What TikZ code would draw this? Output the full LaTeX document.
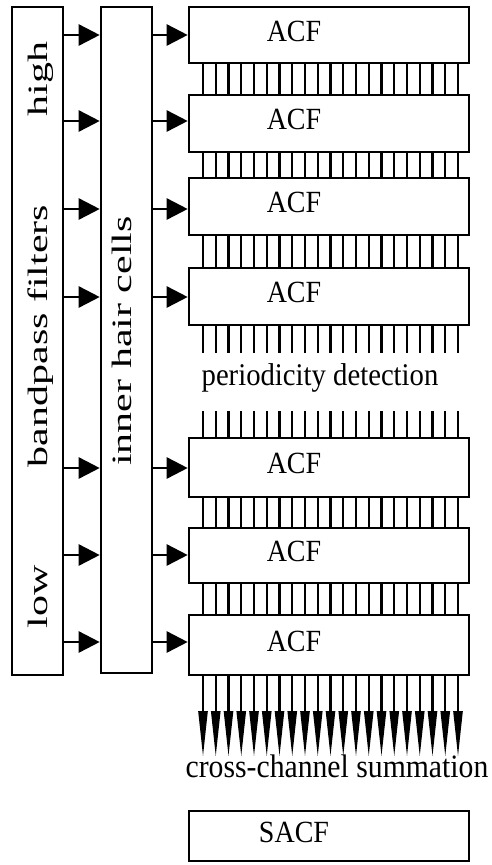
\documentclass[tikz,border=0pt]{standalone}
\usepackage{fontspec}
\setmainfont{Liberation Serif}
\usetikzlibrary{arrows.meta}
\begin{document}
\begin{tikzpicture}[x=1pt,y=-1pt,
  box/.style={draw=black, line width=2.6pt, inner sep=0pt, fill=white},
  acfbox/.style={box, minimum width=280pt},
  lbl/.style={font=\fontsize{28}{30}\selectfont, inner sep=0pt},
  vlbl/.style={font=\fontsize{28}{30}\selectfont, inner sep=0pt, rotate=90,
    text height=19pt, text depth=6pt},
  feed/.style={line width=2.6pt, -{Triangle[length=21pt,width=21pt]}},
  chan/.style={line width=2.4pt},
  sumarr/.style={line width=2.4pt, -{Triangle[length=46pt,width=9pt]}}]
\useasboundingbox (0,0) rectangle (491,865);

% filter bank and hair-cell stages
\node[box, minimum width=51pt, minimum height=668pt] (bp) at (37.5,341) {};
\node[box, minimum width=51pt, minimum height=666pt] (ihc) at (126.5,340) {};
\node[vlbl] (tHigh) at (40.5,79) {\scalebox{1.5}[1]{high}};
\node[vlbl] (tBp) at (40.5,336) {\scalebox{1.5}[1]{bandpass filters}};
\node[vlbl] (tLow) at (40.5,597) {\scalebox{1.5}[1]{low}};
\node[vlbl] (tIhc) at (125,341) {\scalebox{1.5}[1]{inner hair cells}};

% autocorrelation per channel
\node[acfbox, minimum height=56pt] (acf1) at (329,35) {};
\node[acfbox, minimum height=57pt] (acf2) at (329,123.5) {};
\node[acfbox, minimum height=57pt] (acf3) at (329,206.5) {};
\node[acfbox, minimum height=57pt] (acf4) at (329,296.5) {};
\node[acfbox, minimum height=59pt] (acf5) at (329,467.5) {};
\node[acfbox, minimum height=55pt] (acf6) at (329,555.5) {};
\node[acfbox, minimum height=60pt] (acf7) at (329,645) {};
\node[acfbox, minimum height=50pt] (sacf) at (329,836) {};

\foreach \k in {1,...,7}{
  \node[lbl] (tAcf\k) at ([xshift=-35pt,yshift=4pt]acf\k.center) {\scalebox{1}[1.1]{ACF}};
}
\node[lbl] (tSacf) at ([xshift=-35pt,yshift=4pt]sacf.center) {\scalebox{1}[1.1]{SACF}};

\node[lbl, font=\fontsize{28.7}{30}\selectfont] (tPer) at (320,378)
  {\scalebox{1}[1.1]{periodicity detection}};
\node[lbl, font=\fontsize{29.7}{31}\selectfont] (tSum) at (337,766)
  {\scalebox{1}[1.1]{cross-channel summation}};

% channel rows
\coordinate (r1) at (0,35);
\coordinate (r2) at (0,121);
\coordinate (r3) at (0,209);
\coordinate (r4) at (0,297);
\coordinate (r5) at (0,468);
\coordinate (r6) at (0,555);
\coordinate (r7) at (0,642);
\foreach \k in {1,...,7}{
  \draw[feed] (bp.east |- r\k) -- (ihc.west |- r\k);
  \draw[feed] (ihc.east |- r\k) -- (acf\k.west |- r\k);
}

% lag lines
\coordinate (pdA) at (0,353);
\coordinate (pdB) at (0,411);
\coordinate (sumEnd) at (0,757);
\foreach \i in {0,...,20}{
  \pgfmathsetmacro\xx{203+12.75*\i}
  \coordinate (c\i) at (\xx,0);
  \draw[chan] (acf1.south -| c\i) -- (acf2.north -| c\i);
  \draw[chan] (acf2.south -| c\i) -- (acf3.north -| c\i);
  \draw[chan] (acf3.south -| c\i) -- (acf4.north -| c\i);
  \draw[chan] (acf4.south -| c\i) -- (pdA -| c\i);
  \draw[chan] (pdB -| c\i) -- (acf5.north -| c\i);
  \draw[chan] (acf5.south -| c\i) -- (acf6.north -| c\i);
  \draw[chan] (acf6.south -| c\i) -- (acf7.north -| c\i);
  \draw[sumarr] (acf7.south -| c\i) -- (sumEnd -| c\i);
}
\end{tikzpicture}
\end{document}
